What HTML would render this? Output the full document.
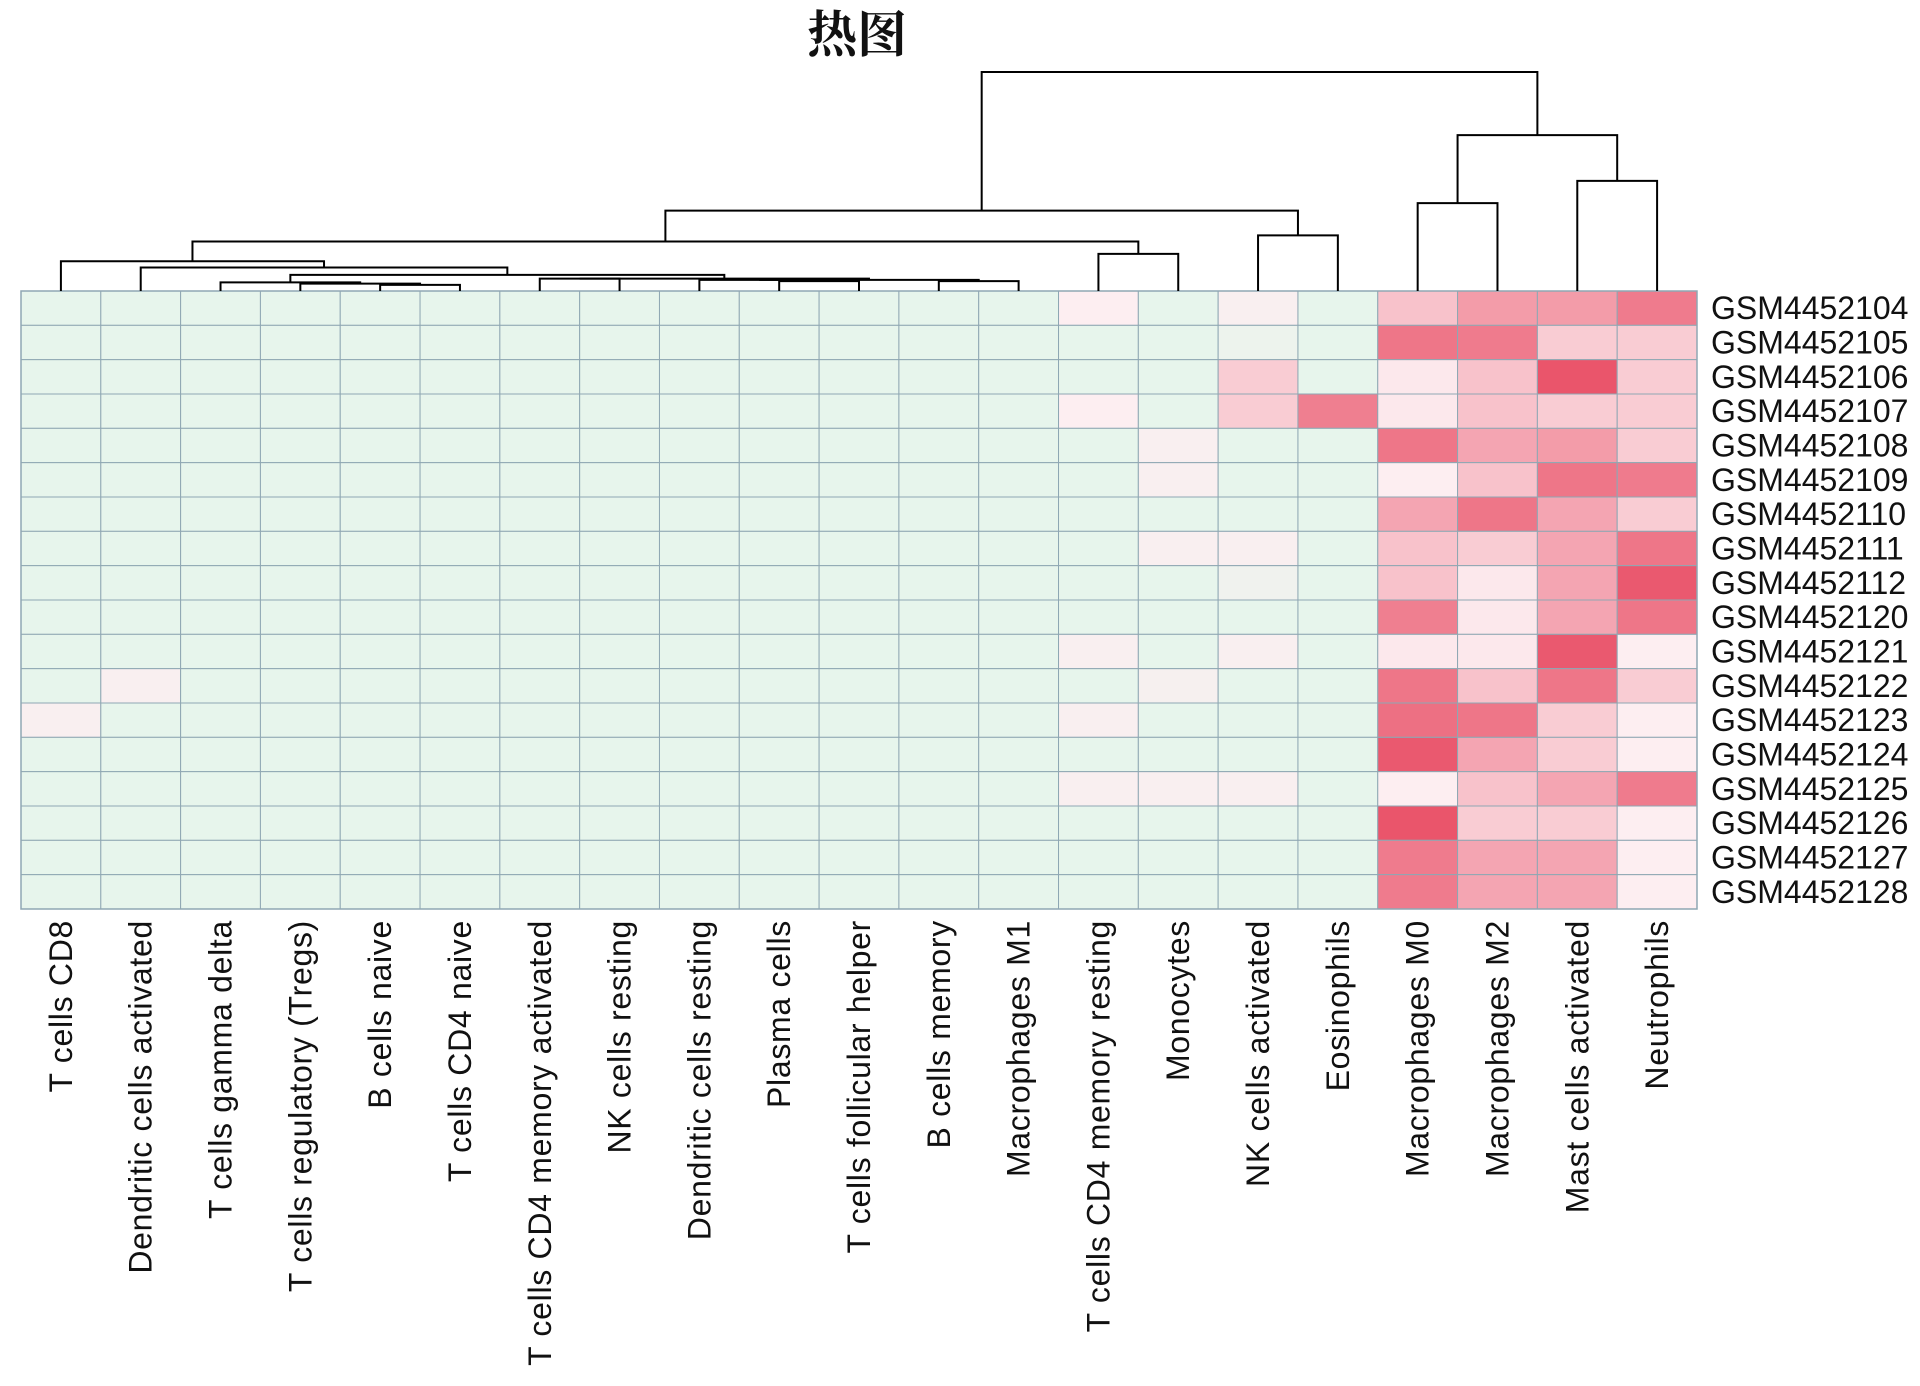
<!DOCTYPE html>
<html><head><meta charset="utf-8"><style>
html,body{margin:0;padding:0;background:#fff;}
svg{display:block;}
text{font-family:"Liberation Sans","Noto Sans CJK SC",sans-serif;fill:#111;}
</style></head><body>
<svg id="chart" width="1920" height="1386" viewBox="0 0 1920 1386" xmlns="http://www.w3.org/2000/svg">
<text x="857" y="52" text-anchor="middle" style="font-family:'Liberation Serif','Noto Serif CJK SC',serif;font-weight:bold;font-size:50px">热图</text>
<g id="cells"></g>
<g id="dendro"></g>
<g id="rowlabels"></g>
<g id="collabels"></g>
</svg>
<script>
const columns = ["T cells CD8","Dendritic cells activated","T cells gamma delta","T cells regulatory (Tregs)","B cells naive","T cells CD4 naive","T cells CD4 memory activated","NK cells resting","Dendritic cells resting","Plasma cells","T cells follicular helper","B cells memory","Macrophages M1","T cells CD4 memory resting","Monocytes","NK cells activated","Eosinophils","Macrophages M0","Macrophages M2","Mast cells activated","Neutrophils"];
const rows = ["GSM4452104","GSM4452105","GSM4452106","GSM4452107","GSM4452108","GSM4452109","GSM4452110","GSM4452111","GSM4452112","GSM4452120","GSM4452121","GSM4452122","GSM4452123","GSM4452124","GSM4452125","GSM4452126","GSM4452127","GSM4452128"];
// values per row, columns 0..20 (0 = lowest, 1 = highest)
const values = [
[0,0,0,0,0,0,0,0,0,0,0,0,0,.12,0,.1,0,.35,.55,.55,.72],
[0,0,0,0,0,0,0,0,0,0,0,0,0,0,0,.03,0,.75,.72,.3,.3],
[0,0,0,0,0,0,0,0,0,0,0,0,0,0,0,.3,0,.15,.35,.92,.3],
[0,0,0,0,0,0,0,0,0,0,0,0,0,.12,0,.3,.7,.15,.35,.3,.3],
[0,0,0,0,0,0,0,0,0,0,0,0,0,0,.1,0,0,.75,.5,.55,.3],
[0,0,0,0,0,0,0,0,0,0,0,0,0,0,.1,0,0,.12,.35,.75,.72],
[0,0,0,0,0,0,0,0,0,0,0,0,0,0,0,0,0,.5,.75,.5,.3],
[0,0,0,0,0,0,0,0,0,0,0,0,0,0,.1,.1,0,.35,.3,.5,.75],
[0,0,0,0,0,0,0,0,0,0,0,0,0,0,0,.05,0,.35,.15,.5,.9],
[0,0,0,0,0,0,0,0,0,0,0,0,0,0,0,0,0,.7,.15,.5,.75],
[0,0,0,0,0,0,0,0,0,0,0,0,0,.1,0,.1,0,.15,.15,.9,.12],
[0,.1,0,0,0,0,0,0,0,0,0,0,0,0,.08,0,0,.75,.35,.75,.3],
[.1,0,0,0,0,0,0,0,0,0,0,0,0,.1,0,0,0,.78,.75,.3,.12],
[0,0,0,0,0,0,0,0,0,0,0,0,0,0,0,0,0,.9,.5,.3,.12],
[0,0,0,0,0,0,0,0,0,0,0,0,0,.1,.1,.1,0,.12,.35,.5,.72],
[0,0,0,0,0,0,0,0,0,0,0,0,0,0,0,0,0,.92,.3,.3,.12],
[0,0,0,0,0,0,0,0,0,0,0,0,0,0,0,0,0,.72,.5,.5,.12],
[0,0,0,0,0,0,0,0,0,0,0,0,0,0,0,0,0,.72,.5,.5,.12]
];
// hclust-style merges: negative = leaf (1-based), positive = earlier merge
const mergeLeft  = [-5,-4,-3,-10,-9,-12,5,-7,8,3,-2,-1,-14,12,-16,14,-18,-20,17,16];
const mergeRight = [-6, 1, 2,-11, 4,-13,6,-8,7,9,10,11,-15,13,-17,15,-19,-21,18,19];
const mergeHeight= [5,6,7,8,9,8,9,10,10,13,19,24,30,40,45,65,71,89,126,177];

const NS="http://www.w3.org/2000/svg";
const L=21,R=1697,T=291,B=909;
const cw=(R-L)/columns.length, rh=(B-T)/rows.length;
const xC=i=>L+cw*(i+0.5);
const yH=h=>T-h*1.237;
function lerp(a,b,t){return a.map((v,i)=>Math.round(v+(b[i]-v)*t));}
function color(v){
  const mint=[231,245,236], pale=[253,238,241], red=[232,70,94];
  const c = v<0.12 ? lerp(mint,pale,v/0.12) : lerp(pale,red,(v-0.12)/0.88);
  return `rgb(${c[0]},${c[1]},${c[2]})`;
}
const gc=document.getElementById('cells');
rows.forEach((r,ri)=>{
  columns.forEach((c,ci)=>{
    const el=document.createElementNS(NS,'rect');
    
    
    el.setAttribute('x',L+ci*cw);el.setAttribute('y',T+ri*rh);
    el.setAttribute('width',cw);el.setAttribute('height',rh);
    el.setAttribute('fill',color(values[ri][ci]));
    el.setAttribute('stroke','#8fa7b3');el.setAttribute('stroke-width','1');
    gc.appendChild(el);
  });
  const t=document.createElementNS(NS,'text');
  
  
  t.setAttribute('x',1711);t.setAttribute('y',T+(ri+0.5)*rh+11);
  t.setAttribute('font-size','32');
  t.textContent=r;
  document.getElementById('rowlabels').appendChild(t);
});
const border=document.createElementNS(NS,'rect');


border.setAttribute('x',L);border.setAttribute('y',T);border.setAttribute('width',R-L);border.setAttribute('height',B-T);
border.setAttribute('fill','none');border.setAttribute('stroke','#8fa7b3');border.setAttribute('stroke-width','1.5');
gc.appendChild(border);
columns.forEach((c,ci)=>{
  const t=document.createElementNS(NS,'text');
  
  
  const x=xC(ci)+11, y=920;
  t.setAttribute('x',x);t.setAttribute('y',y);
  t.setAttribute('text-anchor','end');
  t.setAttribute('font-size','32');
  t.setAttribute('letter-spacing','0.7');
  t.setAttribute('transform',`rotate(-90 ${x} ${y})`);
  t.textContent=c;
  document.getElementById('collabels').appendChild(t);
});
// dendrogram
const gd=document.getElementById('dendro');
const nodeX=[],nodeH=[];
function info(k){ if(k<0) return [xC(-k-1),0]; return [nodeX[k-1],nodeH[k-1]]; }
mergeLeft.forEach((a,i)=>{
  const b=mergeRight[i], h=mergeHeight[i];
  const [xa,ha]=info(a),[xb,hb]=info(b);
  const y=yH(h);
  const p=document.createElementNS(NS,'path');
  
  
  p.setAttribute('d',`M${xa},${yH(ha)}V${y}H${xb}V${yH(hb)}`);
  p.setAttribute('fill','none');p.setAttribute('stroke','#000');p.setAttribute('stroke-width','2');
  gd.appendChild(p);
  nodeX.push((xa+xb)/2);nodeH.push(h);
});
</script>
</body></html>
